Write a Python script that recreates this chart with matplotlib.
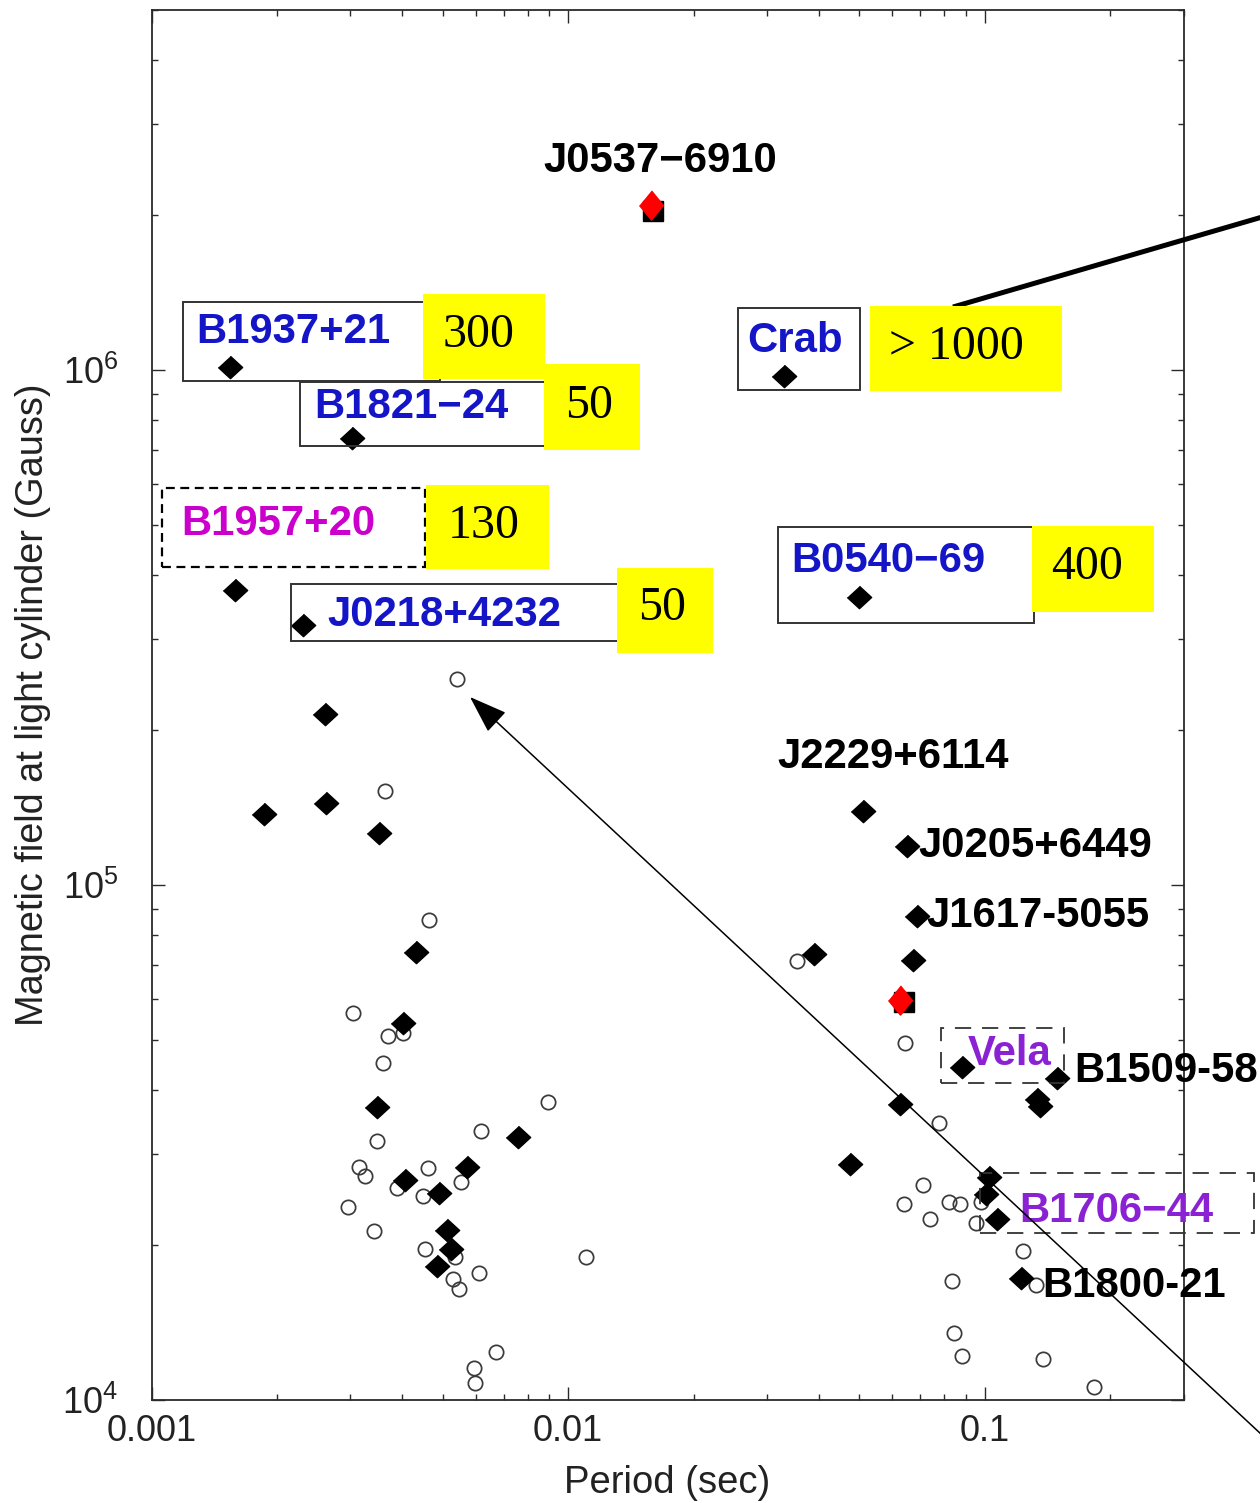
import matplotlib
matplotlib.use("Agg")
import matplotlib.pyplot as plt
from matplotlib.patches import Rectangle, FancyArrowPatch
from matplotlib.lines import Line2D

plt.rcParams['font.family'] = ['Liberation Sans', 'DejaVu Sans']
plt.rcParams['mathtext.fontset'] = 'custom'
plt.rcParams['mathtext.rm'] = 'Liberation Sans'
plt.rcParams['mathtext.it'] = 'Liberation Sans:italic'
plt.rcParams['mathtext.bf'] = 'Liberation Sans:bold'

# ---------------- data ----------------
# pulsars with high-energy pulsations (filled diamonds): period (s), B at light cylinder (G)
hi_period = [0.00154, 0.00303, 0.0329, 0.00159, 0.00231, 0.0500, 0.00261, 0.00186,
             0.00262, 0.00351, 0.00431, 0.0390, 0.0511, 0.0652, 0.0689, 0.0674,
             0.0883, 0.1492, 0.1336, 0.1358, 0.0627, 0.0476, 0.1025, 0.1008,
             0.1072, 0.1224, 0.00401, 0.00347, 0.00757, 0.00571, 0.00405, 0.00489,
             0.00511, 0.00523, 0.00484]
hi_blc = [1.014e6, 7.38e5, 9.74e5, 3.74e5, 3.20e5, 3.63e5, 2.15e5, 1.376e5,
          1.445e5, 1.264e5, 7.40e4, 7.36e4, 1.389e5, 1.188e5, 8.69e4, 7.14e4,
          4.44e4, 4.21e4, 3.84e4, 3.72e4, 3.75e4, 2.87e4, 2.71e4, 2.51e4,
          2.25e4, 1.725e4, 5.39e4, 3.70e4, 3.24e4, 2.84e4, 2.68e4, 2.52e4,
          2.14e4, 1.963e4, 1.819e4]

# other pulsars (open circles)
radio_period = [0.00363, 0.00540, 0.00463, 0.0355, 0.0645, 0.0778, 0.0712, 0.0641,
                0.0822, 0.0874, 0.0981, 0.0740, 0.0954, 0.1237, 0.0836, 0.1329,
                0.0845, 0.0883, 0.1381, 0.1830, 0.00304, 0.00369, 0.00401, 0.00359,
                0.00893, 0.00347, 0.00617, 0.00315, 0.00325, 0.00460, 0.00388, 0.00552,
                0.00448, 0.00296, 0.00342, 0.00453, 0.00534, 0.01102, 0.00610, 0.00528,
                0.00546, 0.00670, 0.00593, 0.00597]
radio_blc = [1.525e5, 2.515e5, 8.57e4, 7.11e4, 4.93e4, 3.45e4, 2.62e4, 2.40e4,
             2.42e4, 2.40e4, 2.42e4, 2.25e4, 2.21e4, 1.945e4, 1.70e4, 1.67e4,
             1.349e4, 1.217e4, 1.201e4, 1.06e4, 5.63e4, 5.08e4, 5.17e4, 4.51e4,
             3.79e4, 3.19e4, 3.33e4, 2.83e4, 2.72e4, 2.82e4, 2.58e4, 2.65e4,
             2.49e4, 2.37e4, 2.13e4, 1.963e4, 1.894e4, 1.894e4, 1.764e4, 1.717e4,
             1.642e4, 1.239e4, 1.154e4, 1.079e4]

# highlighted sources (red diamond over a black square)
red_period = [0.01577, 0.06272]
red_blc = [2.09e6, 5.99e4]
sq_period = [0.01603, 0.06412]
sq_blc = [2.04e6, 5.92e4]

# source names
blue_names = ['B1937+21', 'B1821\u221224', 'J0218+4232', 'B0540\u221269', 'Crab']
black_names = ['J0537\u22126910', 'J2229+6114', 'J0205+6449', 'J1617-5055',
               'B1509-58', 'B1800-21']
magenta_names = ['B1957+20']
purple_names = ['Vela', 'B1706\u221244']
yellow_values = ['300', '50', '130', '50', '400', '> 1000']

# ---------------- figure ----------------
W, H = 1260, 1503
fig = plt.figure(figsize=(W / 100, H / 100), dpi=100)
ax = fig.add_axes([151.5 / W, 1 - 1400 / H, 1032 / W, 1390 / H])


def fx(x):
    return x / W


def fy(y):
    return 1 - y / H


diamond = [(-1, 0), (0, -0.92), (1, 0), (0, 0.92)]
tall_diamond = [(-0.82, 0), (0, -1), (0.82, 0), (0, 1)]

ax.plot(radio_period, radio_blc, 'o', ms=10.3, mfc='none', mec='#3a3a3a', mew=1.25,
        ls='none', zorder=2)
ax.plot(hi_period, hi_blc, marker=diamond, ms=17.5, color='black', ls='none', zorder=3)
ax.plot(sq_period, sq_blc, 's', ms=15, color='black', ls='none', zorder=4)
ax.plot(red_period, red_blc, marker=tall_diamond, ms=21, color='#ff0000', ls='none',
        zorder=5)

ax.set_xscale('log')
ax.set_yscale('log')
ax.set_xlim(0.001, 0.3)
ax.set_ylim(1e4, 5e6)
ax.set_xticks([0.001, 0.01, 0.1])
ax.set_xticklabels(['0.001', '0.01', '0.1'])
ax.set_yticks([1e4, 1e5, 1e6])
ax.set_yticklabels([r'$\mathregular{10^{4}}$', r'$\mathregular{10^{5}}$',
                    r'$\mathregular{10^{6}}$'])
ax.yaxis.set_minor_formatter(matplotlib.ticker.NullFormatter())
ax.xaxis.set_minor_formatter(matplotlib.ticker.NullFormatter())

for s in ax.spines.values():
    s.set_color('#2a2a2a')
    s.set_linewidth(1.3)
ax.tick_params(which='both', direction='in', top=True, right=True, colors='#2a2a2a',
               width=1.0, labelsize=26, labelcolor='#222222')
ax.tick_params(which='major', length=9.5)
ax.tick_params(which='minor', length=4.3)
ax.tick_params(axis='x', pad=10)
ax.tick_params(axis='y', pad=24)

ax.set_xlabel('Period (sec)', fontsize=27.5, color='#222222', va='baseline')
ax.xaxis.set_label_coords(0.5, (1400 - 1493) / 1390)
ax.set_ylabel('Magnetic field at light cylinder (Gauss)', fontsize=27.3,
              color='#222222', va='baseline')
ax.yaxis.set_label_coords((43 - 151.5) / 1032, 0.5)

# ---------------- annotation boxes ----------------
def box(x0, y0, x1, y1, **kw):
    r = Rectangle((fx(x0), fy(y1)), fx(x1) - fx(x0), fy(y0) - fy(y1),
                  transform=fig.transFigure, fill=False, **kw)
    fig.add_artist(r)


solid = [(183, 302, 440, 381), (300, 382, 560, 446), (291, 584, 630, 641),
         (738, 308, 860, 390), (778, 527, 1034, 623)]
for b in solid:
    box(*b, edgecolor='#333333', lw=1.4, zorder=6)

box(162, 488, 425, 567, edgecolor='black', lw=1.6, ls=(0, (4, 2.5)), zorder=6)
box(941, 1028, 1064, 1083, edgecolor='#333333', lw=1.3, ls=(0, (9, 6)), zorder=6)
box(980, 1173, 1254, 1233, edgecolor='#333333', lw=1.3, ls=(0, (9, 6)), zorder=6)

# thick pointer leaving the Crab value
fig.add_artist(Line2D([fx(953), fx(1300)], [fy(307), fy(206)], transform=fig.transFigure,
                      color='black', lw=3.6, solid_capstyle='butt', zorder=7))

yellow = [(423, 294, 545, 379), (544, 364, 640, 450), (426, 485, 549, 569),
          (617, 568, 713, 653), (1032, 526, 1154, 612), (870, 306, 1062, 391)]
for (x0, y0, x1, y1) in yellow:
    fig.add_artist(Rectangle((fx(x0), fy(y1)), fx(x1) - fx(x0), fy(y0) - fy(y1),
                             transform=fig.transFigure, facecolor='#ffff00',
                             edgecolor='none', zorder=8))

value_pos = [(443, 347), (565, 418), (448, 538), (638, 620), (1051, 579), (889, 359)]
for v, (x, y) in zip(yellow_values, value_pos):
    fig.text(fx(x), fy(y), v, fontsize=34.5, family=['Liberation Serif', 'DejaVu Serif'],
             color='black', ha='left', va='baseline', zorder=9)

# ---------------- source names ----------------
name_style = dict(fontsize=30.2, fontweight='bold', ha='left', va='baseline', zorder=9)
blue_pos = [(196, 343), (314, 418), (327, 626), (791, 572), (747, 352)]
for n, (x, y) in zip(blue_names, blue_pos):
    fig.text(fx(x), fy(y), n, color='#1515c8', **name_style)

black_pos = [(543, 172), (777, 768), (918, 857), (926, 927), (1074, 1082), (1042, 1297)]
for n, (x, y) in zip(black_names, black_pos):
    fig.text(fx(x), fy(y), n, color='black', **name_style)

for n, (x, y) in zip(magenta_names, [(181, 535)]):
    fig.text(fx(x), fy(y), n, color='#cc00cc', **name_style)

purple_pos = [(968, 1065), (1019, 1222)]
for n, (x, y) in zip(purple_names, purple_pos):
    fig.text(fx(x), fy(y), n, color='#8a22d4', **name_style)

# thin arrow pointing at the open circle
fig.add_artist(FancyArrowPatch((fx(1335), fy(1503)), (fx(470), fy(697)),
                               transform=fig.transFigure,
                               arrowstyle='-|>,head_length=1.2,head_width=0.42',
                               mutation_scale=20, lw=1.1, color='black',
                               shrinkA=0, shrinkB=0, zorder=10))

fig.savefig('out.png', dpi=100)
